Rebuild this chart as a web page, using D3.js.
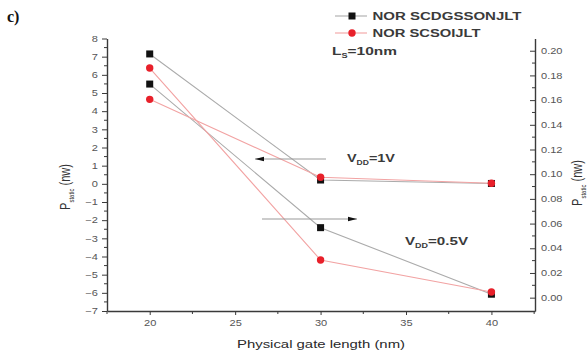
<!DOCTYPE html>
<html>
<head>
<meta charset="utf-8">
<script src="https://cdn.jsdelivr.net/npm/d3@7"></script>
<style>
  html, body { margin: 0; padding: 0; background: #fff; }
  svg { display: block; }
  text { font-family: "Liberation Sans", Arial, sans-serif; }
</style>
</head>
<body>
<svg id="chart" width="588" height="355"></svg>
<script>
// Physical gate length (nm)
const gateLengths = [20, 30, 40];

// VDD = 1 V, left axis
const scdgssonVdd1 = [7.15, 0.21, 0.02];
const scsoiVdd1 = [4.65, 0.36, 0.03];

// VDD = 0.5 V, right axis
const scdgssonVdd05 = [0.173, 0.0567, 0.0028];
const scsoiVdd05 = [0.186, 0.0305, 0.0046];

// Tick values
const xTicks = [20, 25, 30, 35, 40];
const leftTicks = d3.range(-7, 9, 1);
const rightTicks = d3.range(0, 0.201, 0.02);

const seriesNames = ["NOR SCDGSSONJLT", "NOR SCSOIJLT"];

const SX = 1.3;            // horizontal stretch of tick labels
const axisColor = "#3a3a3a";
const labelColor = "#555";
const greyLine = "#ababab";
const pinkLine = "#f2a3a3";
const red = "#e8202a";

const svg = d3.select("#chart");

const x = d3.scaleLinear().domain([17.5, 42.55]).range([107, 535]);
const yL = d3.scaleLinear().domain([-7, 8]).range([311, 38.5]);
const yR = d3.scaleLinear().domain([-0.0108, 0.2099]).range([311, 38.5]);

// text helper; when a width is given the run is fitted to it with textLength
function label(g, tx, ty, str, opts = {}) {
  const t = g.append("text")
    .attr("x", tx).attr("y", ty)
    .attr("font-size", opts.size || 11)
    .attr("fill", opts.fill || "#333")
    .attr("text-anchor", opts.anchor || "start");
  if (opts.weight) t.attr("font-weight", opts.weight);
  t.text(str);
  if (opts.build) opts.build(t);
  if (opts.width) t.attr("textLength", opts.width).attr("lengthAdjust", "spacingAndGlyphs");
  return t;
}

function stretchTicks(g) {
  g.selectAll(".tick text").each(function () {
    const s = d3.select(this);
    const xv = +s.attr("x") || 0;
    s.attr("x", xv / SX).attr("transform", `scale(${SX},1)`);
  });
}

// minor ticks
const gMinor = svg.append("g").attr("stroke", axisColor).attr("stroke-width", 1);
d3.range(-6.5, 8, 1).forEach(v => {
  gMinor.append("line").attr("x1", 104).attr("x2", 107).attr("y1", yL(v)).attr("y2", yL(v));
});
d3.range(0.01, 0.2, 0.02).forEach(v => {
  gMinor.append("line").attr("x1", 532).attr("x2", 535).attr("y1", yR(v)).attr("y2", yR(v));
});
d3.range(17.5, 42.6, 5).forEach(v => {
  gMinor.append("line").attr("x1", x(v)).attr("x2", x(v)).attr("y1", 311).attr("y2", 314);
});

// left axis
const gL = svg.append("g").attr("transform", "translate(107,0)")
  .call(d3.axisLeft(yL).tickValues(leftTicks).tickFormat(d3.format("d")).tickSizeInner(5).tickSizeOuter(0).tickPadding(4));
// right axis
const gR = svg.append("g").attr("transform", "translate(535,0)")
  .call(d3.axisRight(yR).tickValues(rightTicks).tickFormat(d3.format(".2f")).tickSizeInner(-5).tickSizeOuter(0).tickPadding(6));
// bottom axis
const gB = svg.append("g").attr("transform", "translate(0,311)")
  .call(d3.axisBottom(x).tickValues(xTicks).tickFormat(d3.format("d")).tickSizeInner(4).tickSizeOuter(0).tickPadding(5));

[gL, gR, gB].forEach(g => {
  g.select(".domain").attr("stroke", axisColor).attr("stroke-width", 1.4);
  g.selectAll(".tick line").attr("stroke", axisColor).attr("stroke-width", 1);
  g.selectAll(".tick text").attr("fill", labelColor).attr("font-size", 8.5)
    .style("font-family", '"Liberation Sans", Arial, sans-serif');
  stretchTicks(g);
});

// axis titles
label(svg, 321, 348, "Physical gate length (nm)", { size: 11.5, anchor: "middle", fill: "#2a2a2a", width: 168 });

function yTitle(tx, ty) {
  const t = svg.append("text")
    .attr("transform", `translate(${tx},${ty}) scale(${SX},1) rotate(-90)`)
    .attr("font-size", 11).attr("fill", "#333").attr("text-anchor", "middle")
    .text("P");
  t.append("tspan").attr("font-size", 6).attr("dy", 3).text("static");
  t.append("tspan").attr("dy", -3).text(" (nw)");
}
yTitle(70, 187);
yTitle(582, 183);

// panel letter
svg.append("text").attr("x", 7).attr("y", 22)
  .attr("font-size", 16).attr("font-weight", "bold")
  .style("font-family", '"Liberation Serif", "Times New Roman", serif')
  .attr("fill", "#111").text("c)");

// series lines
const lineL = d3.line().x((d, i) => x(gateLengths[i])).y(d => yL(d));
const lineR = d3.line().x((d, i) => x(gateLengths[i])).y(d => yR(d));

const gLines = svg.append("g").attr("fill", "none").attr("stroke-width", 1.1);
gLines.append("path").attr("d", lineL(scdgssonVdd1)).attr("stroke", greyLine);
gLines.append("path").attr("d", lineR(scdgssonVdd05)).attr("stroke", greyLine);
gLines.append("path").attr("d", lineL(scsoiVdd1)).attr("stroke", pinkLine);
gLines.append("path").attr("d", lineR(scsoiVdd05)).attr("stroke", pinkLine);

// markers
function squares(vals, sc) {
  svg.append("g").selectAll("rect").data(vals).join("rect")
    .attr("x", (d, i) => x(gateLengths[i]) - 3.5)
    .attr("y", d => sc(d) - 3.5)
    .attr("width", 7).attr("height", 7).attr("fill", "#111");
}
function circles(vals, sc) {
  svg.append("g").selectAll("circle").data(vals).join("circle")
    .attr("cx", (d, i) => x(gateLengths[i]))
    .attr("cy", d => sc(d))
    .attr("r", 3.7).attr("fill", red);
}
squares(scdgssonVdd1, yL);
squares(scdgssonVdd05, yR);
circles(scsoiVdd1, yL);
circles(scsoiVdd05, yR);

// arrows pointing to each curve's axis
function arrow(x1, x2, yy) {
  svg.append("line").attr("x1", x1).attr("x2", x2).attr("y1", yy).attr("y2", yy)
    .attr("stroke", "#999").attr("stroke-width", 1);
  const dir = x2 > x1 ? 1 : -1;
  svg.append("path")
    .attr("d", `M${x2},${yy} L${x2 - dir * 9},${yy - 2.3} L${x2 - dir * 9},${yy + 2.3} Z`)
    .attr("fill", "#111");
}
arrow(326, 255, 159);
arrow(262, 357, 219);

// supply voltage annotations
function vdd(tx, ty, rest, w) {
  label(svg, tx, ty, "V", {
    size: 11, fill: "#3a3a3a", weight: "bold", width: w,
    build: t => {
      t.append("tspan").attr("font-size", 6.5).attr("dy", 3).text("DD");
      t.append("tspan").attr("dy", -3).text(rest);
    }
  });
}
vdd(347, 162, "=1V", 48);
vdd(405, 245, "=0.5V", 63);

// legend
const legendRows = [
  { name: seriesNames[0], stroke: greyLine, y: 16, square: true, w: 149 },
  { name: seriesNames[1], stroke: pinkLine, y: 33, square: false, w: 108 }
];
legendRows.forEach(r => {
  svg.append("line").attr("x1", 335).attr("x2", 367).attr("y1", r.y).attr("y2", r.y)
    .attr("stroke", r.stroke).attr("stroke-width", 1.1);
  if (r.square) {
    svg.append("rect").attr("x", 352 - 3.5).attr("y", r.y - 3.5).attr("width", 7).attr("height", 7).attr("fill", "#111");
  } else {
    svg.append("circle").attr("cx", 352).attr("cy", r.y).attr("r", 3.7).attr("fill", red);
  }
  label(svg, 372.5, r.y + 4, r.name, { size: 11, fill: "#3a3a3a", weight: "bold", width: r.w });
});
label(svg, 332, 55, "L", {
  size: 11, fill: "#3a3a3a", weight: "bold", width: 65,
  build: t => {
    t.append("tspan").attr("font-size", 6.5).attr("dy", 3).text("S");
    t.append("tspan").attr("dy", -3).text("=10nm");
  }
});
</script>
</body>
</html>
